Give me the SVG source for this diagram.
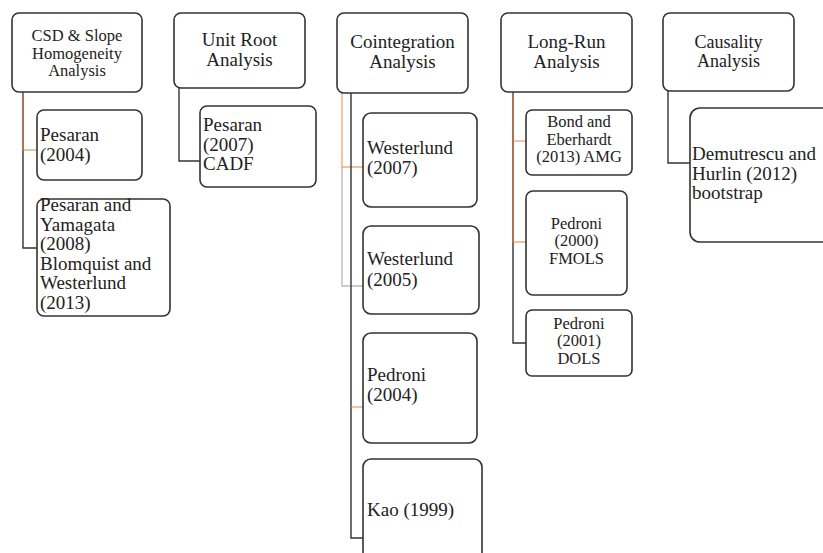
<svg xmlns="http://www.w3.org/2000/svg" width="823" height="553" viewBox="0 0 823 553">
<style>
  .box { fill: #fff; stroke: #333; stroke-width: 1.6; }
  .t { font-family: "Liberation Serif", "Times New Roman", serif; font-size: 19px; fill: #222; }
  .s { font-size: 16.5px; }
  .m { font-size: 18px; }
  .c { text-anchor: middle; }
  .dk { fill: none; stroke: #333; stroke-width: 1.4; }
  .or { fill: none; stroke: #ED7D31; stroke-width: 1.4; stroke-opacity: 0.65; }
  .gy { fill: none; stroke: #bbb; stroke-width: 1.4; }
</style>
<rect width="823" height="553" fill="#fff"/>
<g id="connectors">
  <path class="dk" d="M23 92 V248 H37"/>
  <path class="or" d="M23 92 V150 H37"/>
  <path class="dk" d="M179 88 V161 H200"/>
  <path class="or" d="M342 93 V167 H363"/>
  <path class="gy" d="M342 167 V286 H363"/>
  <path class="dk" d="M351 93 V538 H363"/>
  <path class="or" d="M351 407 H363"/>
  <path class="dk" d="M513 92 V343 H526"/>
  <path class="or" d="M513 92 V242 H526"/>
  <path class="or" d="M513 141 H526"/>
  <path class="dk" d="M668 91 V163 H690"/>
</g>
<g id="csd">
  <rect class="box" x="12" y="13" width="130" height="79" rx="7"/>
  <text class="t s c" x="77" y="41">CSD &amp; Slope</text>
  <text class="t s c" x="77" y="58.5">Homogeneity</text>
  <text class="t s c" x="77" y="76">Analysis</text>
</g>
<g id="pesaran2004">
  <rect class="box" x="37" y="110" width="105" height="70" rx="7"/>
  <text class="t" x="40" y="141">Pesaran</text>
  <text class="t" x="40" y="161">(2004)</text>
</g>
<g id="pesaran2008">
  <rect class="box" x="37" y="199" width="133" height="117" rx="7"/>
  <text class="t" x="40" y="211">Pesaran and</text>
  <text class="t" x="40" y="230.6">Yamagata</text>
  <text class="t" x="40" y="250.2">(2008)</text>
  <text class="t" x="40" y="269.8">Blomquist and</text>
  <text class="t" x="40" y="289.4">Westerlund</text>
  <text class="t" x="40" y="309">(2013)</text>
</g>
<g id="unitroot">
  <rect class="box" x="174" y="13" width="131" height="75" rx="7"/>
  <text class="t c" x="239.5" y="46">Unit Root</text>
  <text class="t c" x="239.5" y="66">Analysis</text>
</g>
<g id="pesaran2007">
  <rect class="box" x="200" y="106" width="116" height="81" rx="7"/>
  <text class="t" x="203" y="131">Pesaran</text>
  <text class="t" x="203" y="150.5">(2007)</text>
  <text class="t" x="203" y="170">CADF</text>
</g>
<g id="cointegration">
  <rect class="box" x="337" y="13" width="131" height="80" rx="7"/>
  <text class="t c" x="402.5" y="48">Cointegration</text>
  <text class="t c" x="402.5" y="68">Analysis</text>
</g>
<g id="westerlund2007">
  <rect class="box" x="363" y="113" width="114" height="94" rx="8"/>
  <text class="t" x="367" y="154">Westerlund</text>
  <text class="t" x="367" y="174">(2007)</text>
</g>
<g id="westerlund2005">
  <rect class="box" x="363" y="226" width="116" height="88" rx="8"/>
  <text class="t" x="367" y="265">Westerlund</text>
  <text class="t" x="367" y="286">(2005)</text>
</g>
<g id="pedroni2004">
  <rect class="box" x="363" y="333" width="114" height="110" rx="8"/>
  <text class="t" x="367" y="381">Pedroni</text>
  <text class="t" x="367" y="401">(2004)</text>
</g>
<g id="kao1999">
  <rect class="box" x="363" y="459" width="119" height="110" rx="8"/>
  <text class="t" x="367" y="516">Kao (1999)</text>
</g>
<g id="longrun">
  <rect class="box" x="501" y="13" width="131" height="79" rx="7"/>
  <text class="t c" x="566.5" y="48">Long-Run</text>
  <text class="t c" x="566.5" y="68">Analysis</text>
</g>
<g id="bond2013">
  <rect class="box" x="526" y="110" width="106" height="65" rx="6"/>
  <text class="t s c" x="579" y="127">Bond and</text>
  <text class="t s c" x="579" y="144.5">Eberhardt</text>
  <text class="t s c" x="579" y="162">(2013) AMG</text>
</g>
<g id="pedroni2000">
  <rect class="box" x="526" y="191" width="101" height="104" rx="7"/>
  <text class="t s c" x="576.5" y="228.5">Pedroni</text>
  <text class="t s c" x="576.5" y="246">(2000)</text>
  <text class="t s c" x="576.5" y="263.5">FMOLS</text>
</g>
<g id="pedroni2001">
  <rect class="box" x="526" y="310" width="106" height="66" rx="6"/>
  <text class="t s c" x="579" y="328.5">Pedroni</text>
  <text class="t s c" x="579" y="346">(2001)</text>
  <text class="t s c" x="579" y="363.5">DOLS</text>
</g>
<g id="causality">
  <rect class="box" x="663" y="13" width="131" height="78" rx="7"/>
  <text class="t m c" x="728.5" y="47.5">Causality</text>
  <text class="t m c" x="728.5" y="66.5">Analysis</text>
</g>
<g id="demutrescu2012">
  <rect class="box" x="690" y="108" width="150" height="134" rx="10"/>
  <text class="t" x="692" y="160">Demutrescu and</text>
  <text class="t" x="692" y="179.5">Hurlin (2012)</text>
  <text class="t" x="692" y="199">bootstrap</text>
</g>
</svg>
